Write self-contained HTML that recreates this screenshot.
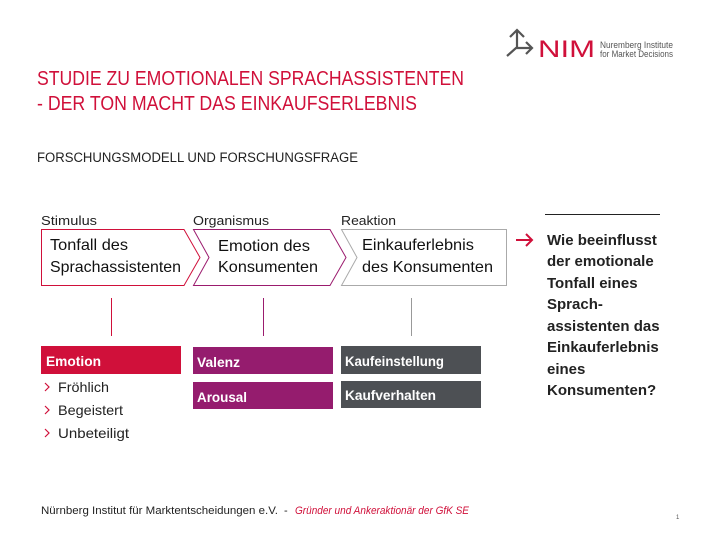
<!DOCTYPE html>
<html><head><meta charset="utf-8"><style>
html,body{margin:0;padding:0;background:#fff;}
svg{display:block;}
text{font-family:"Liberation Sans",sans-serif;}
</style></head><body>
<svg width="720" height="540" viewBox="0 0 720 540" xmlns="http://www.w3.org/2000/svg">
<!-- logo -->
<g stroke="#555" stroke-width="2.2" fill="none">
<path d="M517 48 V30 M510 37 L517 30 L524 37"/>
<path d="M507 56 L516 48 H532 M526 42 L532 48 L526 54"/>
</g>
<text x="538" y="57" font-size="24" fill="#d0103a" textLength="57" lengthAdjust="spacingAndGlyphs">NIM</text>
<text x="600" y="48" font-size="9" fill="#555" textLength="73" lengthAdjust="spacingAndGlyphs">Nuremberg Institute</text>
<text x="600" y="57" font-size="9" fill="#555" textLength="73" lengthAdjust="spacingAndGlyphs">for Market Decisions</text>

<text x="37" y="85" font-size="20" fill="#d0103a" textLength="427" lengthAdjust="spacingAndGlyphs">STUDIE ZU EMOTIONALEN SPRACHASSISTENTEN</text>
<text x="37" y="110" font-size="20" fill="#d0103a" textLength="380" lengthAdjust="spacingAndGlyphs">- DER TON MACHT DAS EINKAUFSERLEBNIS</text>
<text x="37" y="162" font-size="13.5" fill="#222" textLength="321" lengthAdjust="spacingAndGlyphs">FORSCHUNGSMODELL  UND  FORSCHUNGSFRAGE</text>

<text x="41" y="225" font-size="13" fill="#222" textLength="56" lengthAdjust="spacingAndGlyphs">Stimulus</text>
<text x="193" y="225" font-size="13" fill="#222" textLength="76" lengthAdjust="spacingAndGlyphs">Organismus</text>
<text x="341" y="225" font-size="13" fill="#222" textLength="55" lengthAdjust="spacingAndGlyphs">Reaktion</text>

<path d="M41.5 229.5 H184 L200 257.5 L184 285.5 H41.5 Z" fill="none" stroke="#d0103a" stroke-width="1"/>
<path d="M193.5 229.5 H330 L346 257.5 L330 285.5 H193.5 L209 257.5 Z" fill="none" stroke="#9b1b6e" stroke-width="1"/>
<path d="M341.5 229.5 H506.5 V285.5 H341.5 L357 257.5 Z" fill="none" stroke="#aaa" stroke-width="1"/>

<text x="50" y="250" font-size="16" fill="#111" textLength="78" lengthAdjust="spacingAndGlyphs">Tonfall des</text>
<text x="50" y="272" font-size="16" fill="#111" textLength="131" lengthAdjust="spacingAndGlyphs">Sprachassistenten</text>
<text x="218" y="251" font-size="16" fill="#111" textLength="92" lengthAdjust="spacingAndGlyphs">Emotion des</text>
<text x="218" y="272" font-size="16" fill="#111" textLength="100" lengthAdjust="spacingAndGlyphs">Konsumenten</text>
<text x="362" y="250" font-size="16" fill="#111" textLength="112" lengthAdjust="spacingAndGlyphs">Einkauferlebnis</text>
<text x="362" y="272" font-size="16" fill="#111" textLength="131" lengthAdjust="spacingAndGlyphs">des Konsumenten</text>

<line x1="111.5" y1="298" x2="111.5" y2="336" stroke="#d0103a"/>
<line x1="263.5" y1="298" x2="263.5" y2="336" stroke="#9b1b6e"/>
<line x1="411.5" y1="298" x2="411.5" y2="336" stroke="#999"/>

<rect x="41" y="346" width="140" height="28" fill="#d0103a"/>
<text x="46" y="366" font-size="14" font-weight="bold" fill="#fff" textLength="55" lengthAdjust="spacingAndGlyphs">Emotion</text>
<rect x="193" y="347" width="140" height="27" fill="#951c6e"/>
<text x="197" y="367" font-size="14" font-weight="bold" fill="#fff" textLength="43" lengthAdjust="spacingAndGlyphs">Valenz</text>
<rect x="193" y="382" width="140" height="27" fill="#951c6e"/>
<text x="197" y="402" font-size="14" font-weight="bold" fill="#fff" textLength="50" lengthAdjust="spacingAndGlyphs">Arousal</text>
<rect x="341" y="346" width="140" height="28" fill="#4d5054"/>
<text x="345" y="366" font-size="14" font-weight="bold" fill="#fff" textLength="99" lengthAdjust="spacingAndGlyphs">Kaufeinstellung</text>
<rect x="341" y="381" width="140" height="27" fill="#4d5054"/>
<text x="345" y="400" font-size="14" font-weight="bold" fill="#fff" textLength="91" lengthAdjust="spacingAndGlyphs">Kaufverhalten</text>

<g stroke="#d0103a" stroke-width="1.2" fill="none">
<path d="M45 383 L49 387 L45 391"/>
<path d="M45 406 L49 410 L45 414"/>
<path d="M45 429 L49 433 L45 437"/>
</g>
<text x="58" y="392" font-size="14" fill="#222" textLength="51" lengthAdjust="spacingAndGlyphs">Fröhlich</text>
<text x="58" y="415" font-size="14" fill="#222" textLength="65" lengthAdjust="spacingAndGlyphs">Begeistert</text>
<text x="58" y="438" font-size="14" fill="#222" textLength="71" lengthAdjust="spacingAndGlyphs">Unbeteiligt</text>

<line x1="545" y1="214.5" x2="660" y2="214.5" stroke="#222"/>
<g stroke="#d0103a" stroke-width="2" fill="none">
<path d="M516 240 H532 M526 234 L532 240 L526 246"/>
</g>
<g font-size="15" font-weight="bold" fill="#222">
<text x="547" y="245">Wie beeinflusst</text>
<text x="547" y="266">der emotionale</text>
<text x="547" y="288">Tonfall eines</text>
<text x="547" y="309">Sprach-</text>
<text x="547" y="331">assistenten das</text>
<text x="547" y="352">Einkauferlebnis</text>
<text x="547" y="374">eines</text>
<text x="547" y="395">Konsumenten?</text>
</g>

<text x="41" y="514" font-size="11" fill="#222" textLength="237" lengthAdjust="spacingAndGlyphs">Nürnberg Institut für Marktentscheidungen e.V.</text>
<text x="284" y="514" font-size="11" fill="#222">-</text>
<text x="295" y="514" font-size="11" font-style="italic" fill="#d0103a" textLength="174" lengthAdjust="spacingAndGlyphs">Gründer und Ankeraktionär der GfK SE</text>
<text x="676" y="519" font-size="6" fill="#555">1</text>
</svg>
</body></html>
